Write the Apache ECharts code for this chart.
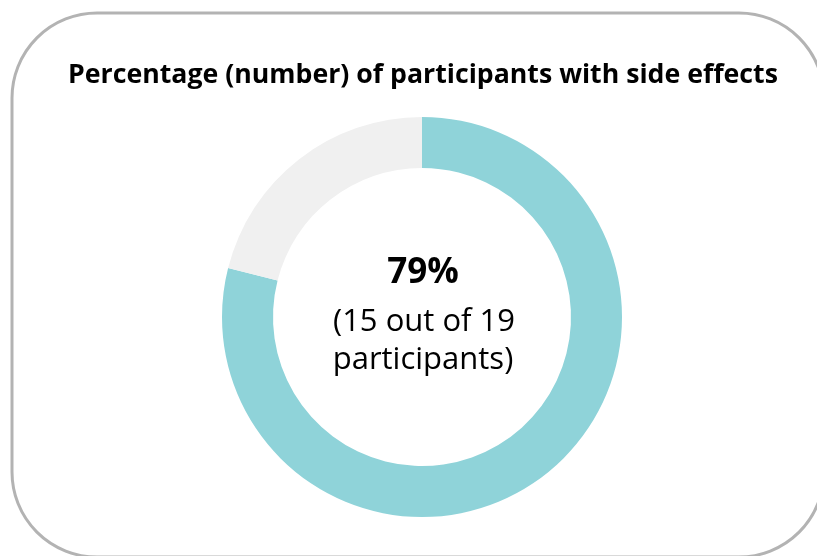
<!DOCTYPE html>
<html>
<head>
<meta charset="utf-8">
<script src="https://cdn.jsdelivr.net/npm/echarts@6/dist/echarts.min.js"></script>
<style>
  html, body { margin: 0; padding: 0; background: #fff; }
  #chart { width: 817px; height: 556px; }
</style>
</head>
<body>
<div id="chart"></div>
<script>
// 数据
var categories = ['With side effects', 'Without side effects'];
var counts = [15, 4];
var colors = ['#8fd3d9', '#f0f0f0'];
var titleText = 'Percentage (number) of participants with side effects';

var total = counts[0] + counts[1];
var pct = Math.round(counts[0] / total * 100);

var chart = echarts.init(document.getElementById('chart'));

var font = '"Open Sans"';

chart.setOption({
    animation: false,
    graphic: [{
        // 圆角边框
        type: 'rect',
        shape: { x: 12, y: 13, width: 812, height: 544, r: 85 },
        style: { fill: 'none', stroke: '#b3b3b3', lineWidth: 3 },
        z: 0
    }, {
        type: 'text',
        x: 423, y: 75,
        style: {
            text: titleText,
            font: 'bold 26.7px ' + font,
            fill: '#000', align: 'center', verticalAlign: 'middle'
        }
    }, {
        // 中间的文字
        type: 'text',
        x: 423, y: 273,
        style: {
            text: pct + '%',
            font: 'bold 35px ' + font,
            fill: '#000', align: 'center', verticalAlign: 'middle'
        }
    }, {
        type: 'text',
        x: 424, y: 322,
        style: {
            text: '(' + counts[0] + ' out of ' + total,
            font: '31px ' + font,
            fill: '#000', align: 'center', verticalAlign: 'middle'
        }
    }, {
        type: 'text',
        x: 423, y: 360,
        style: {
            text: 'participants)',
            font: '31px ' + font,
            fill: '#000', align: 'center', verticalAlign: 'middle'
        }
    }],
    series: [{
        type: 'pie',
        center: [422, 317],
        radius: [149, 200],
        startAngle: 90,
        clockwise: true,
        silent: true,
        label: { show: false },
        labelLine: { show: false },
        itemStyle: { borderWidth: 0 },
        data: categories.map(function (c, i) {
            return { name: c, value: counts[i], itemStyle: { color: colors[i] } };
        })
    }]
});
</script>
</body>
</html>
